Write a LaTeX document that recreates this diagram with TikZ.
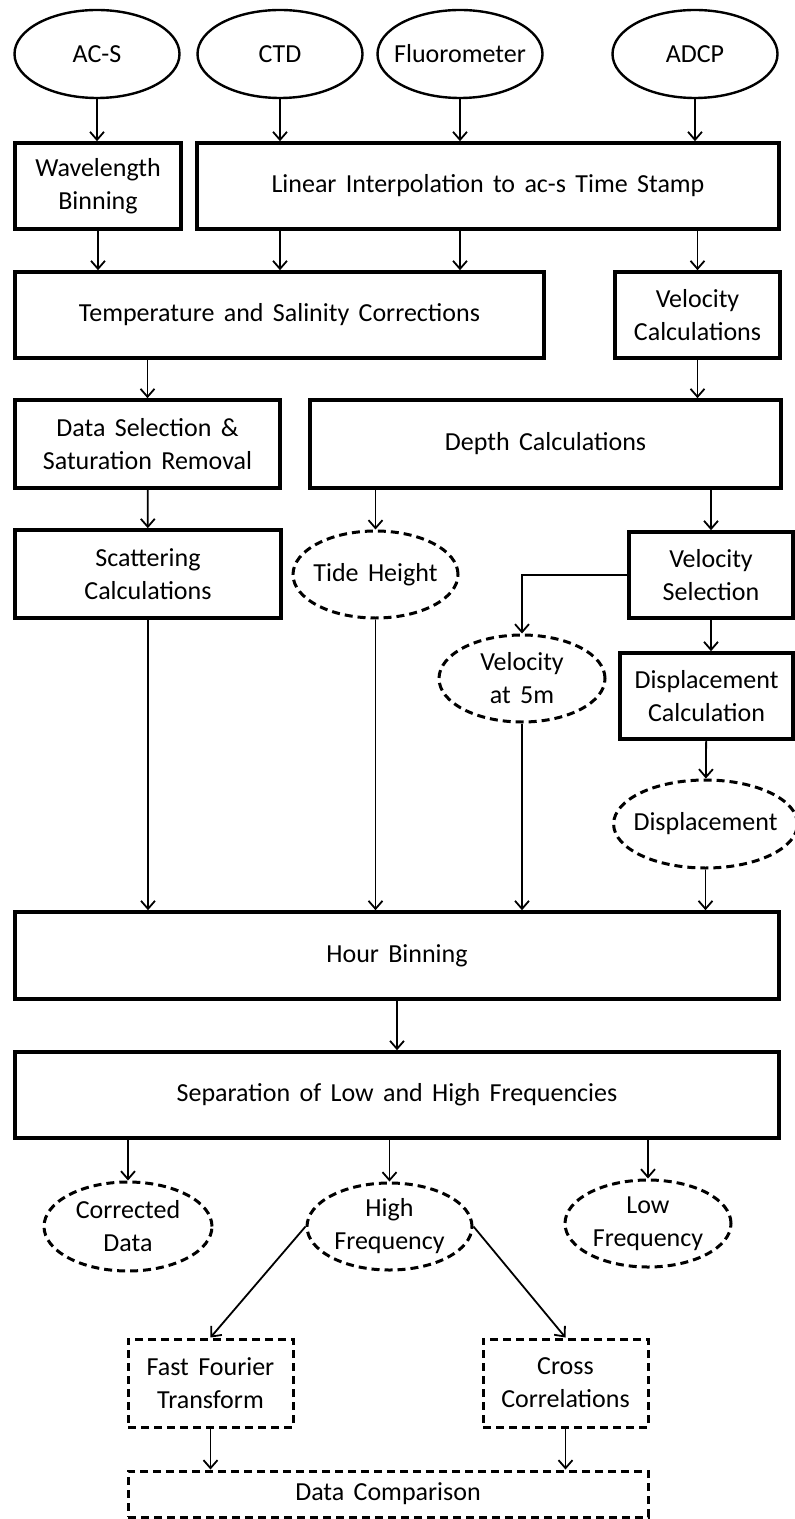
\documentclass[tikz,border=0pt]{standalone}
\usepackage{fontspec}
\setmainfont{Carlito}
\usepackage{tikz}
\usetikzlibrary{arrows.meta}
\usetikzlibrary{shapes.geometric}
\usetikzlibrary{calc}
\newcommand{\boxfont}{\fontsize{13}{16.5}\selectfont\spaceskip 0.36em\relax}
\tikzset{proc/.style = {draw, line width = 1.8pt, rectangle, align = center,
                        inner sep = 0, minimum height = 43pt}}
\tikzset{dproc/.style = {proc, line width = 1.5pt, dash pattern = on 4pt off 2.5pt}}
\tikzset{src/.style = {draw, line width = 1.2pt, ellipse, align = center,
                       inner sep = 0, minimum width = 82.5pt, minimum height = 44pt}}
\tikzset{res/.style = {src, line width = 1.5pt, dash pattern = on 4pt off 2.5pt}}
\tikzset{arr/.style = {line width = 0.9pt, -{Straight Barb[length = 4pt, width = 7pt, line width = 0.9pt]}}}

\begin{document}
\begin{tikzpicture}[x = 0.5pt, y = -0.5pt, font = \boxfont]
    \useasboundingbox (0, 0) rectangle (795, 1519);

    % instruments
    \node [src] (acs) at (97, 54) {AC-S};
    \node [src] (ctd) at (280, 54) {CTD};
    \node [src, inner xsep = -4pt] (fluoro) at (460, 54) {Fluorometer};
    \node [src] (adcp) at (695, 54) {ADCP};

    % processing steps
    \node [proc, minimum width = 83pt] (wavebin) at (98, 186) {Wavelength\\Binning};
    \node [proc, minimum width = 291pt] (interp) at (488, 186) {Linear Interpolation to ac-s Time Stamp};
    \node [proc, minimum width = 264.5pt] (tscorr) at (279.5, 315) {Temperature and Salinity Corrections};
    \node [proc, minimum width = 82.5pt] (velcalc) at (697.5, 315) {Velocity\\Calculations};
    \node [proc, minimum width = 132.5pt, minimum height = 44pt] (datasel) at (147.5, 444) {Data Selection \&\\Saturation Removal};
    \node [proc, minimum width = 235.5pt, minimum height = 44pt] (depth) at (545.5, 444) {Depth Calculations};
    \node [proc, minimum width = 133pt, minimum height = 44pt] (scatter) at (148, 574) {Scattering\\Calculations};
    \node [res, inner xsep = -2.5pt, minimum height = 43.5pt] (tide) at (375.5, 574.5) {Tide Height};
    \node [proc, minimum width = 82pt] (velsel) at (711, 575) {Velocity\\Selection};
    \node [res, minimum width = 83pt, minimum height = 43.5pt] (vel5) at (522, 678.5) {Velocity\\at 5m};
    \node [proc, minimum width = 86.5pt] (dispcalc) at (706.5, 696) {Displacement\\Calculation};
    \node [res, inner xsep = -3.5pt, minimum width = 87.5pt] (disp) at (705.5, 824) {Displacement};
    \node [proc, minimum width = 382pt, minimum height = 43.5pt] (hour) at (397, 955.5) {Hour Binning};
    \node [proc, minimum width = 382pt] (sep) at (397, 1095) {Separation of Low and High Frequencies};

    % outputs
    \node [res, minimum width = 84pt, minimum height = 44.5pt] (corr) at (128, 1226.5) {Corrected\\Data};
    \node [res, minimum height = 43.5pt] (high) at (389.5, 1226.5) {High\\Frequency};
    \node [res, minimum width = 83pt, minimum height = 43.5pt] (low) at (648, 1223.5) {Low\\Frequency};
    \node [dproc, minimum width = 82.5pt, minimum height = 44pt] (fft) at (210.5, 1383) {Fast Fourier\\Transform};
    \node [dproc, minimum width = 82.5pt, minimum height = 44pt] (cross) at (565.5, 1383) {Cross\\Correlations};
    \node [dproc, minimum width = 260pt, minimum height = 23pt] (comp) at (388, 1494) {Data Comparison};

    % connectors
    \draw [arr] (acs) -- (acs |- wavebin.north);
    \draw [arr] (ctd) -- (ctd |- interp.north);
    \draw [arr] (fluoro) -- (fluoro |- interp.north);
    \draw [arr] (adcp) -- (adcp |- interp.north);
    \draw [arr] (wavebin) -- (wavebin |- tscorr.north);
    \draw [arr] (interp.south -| ctd) -- (tscorr.north -| ctd);
    \draw [arr] (interp.south -| fluoro) -- (tscorr.north -| fluoro);
    \draw [arr] (interp.south -| velcalc) -- (velcalc.north);
    \draw [arr] (tscorr.south -| datasel) -- (datasel.north);
    \draw [arr] (velcalc) -- (velcalc |- depth.north);
    \draw [arr] (datasel) -- (scatter);
    \draw [arr] (depth.south -| tide) -- (tide.north);
    \draw [arr] (depth.south -| velsel) -- (velsel.north);
    \draw [arr] (velsel.south) -- (velsel.south |- dispcalc.north);
    \draw [arr] (velsel.west) -| (vel5.north);
    \draw [arr] (dispcalc) -- (disp);
    \draw [arr] (scatter) -- (scatter |- hour.north);
    \draw [arr] (tide) -- (tide |- hour.north);
    \draw [arr] (vel5) -- (vel5 |- hour.north);
    \draw [arr] (disp) -- (disp |- hour.north);
    \draw [arr] (hour) -- (sep);
    \draw [arr] (sep.south -| corr) -- (corr.north);
    \draw [arr] (sep.south -| high) -- (high.north);
    \draw [arr] (sep.south -| low) -- (low.north);
    \draw [arr] (high.west) -- (fft.north);
    \draw [arr] (high.east) -- (cross.north);
    \draw [arr] (fft) -- (fft |- comp.north);
    \draw [arr] (cross) -- (cross |- comp.north);
\end{tikzpicture}
\end{document}
